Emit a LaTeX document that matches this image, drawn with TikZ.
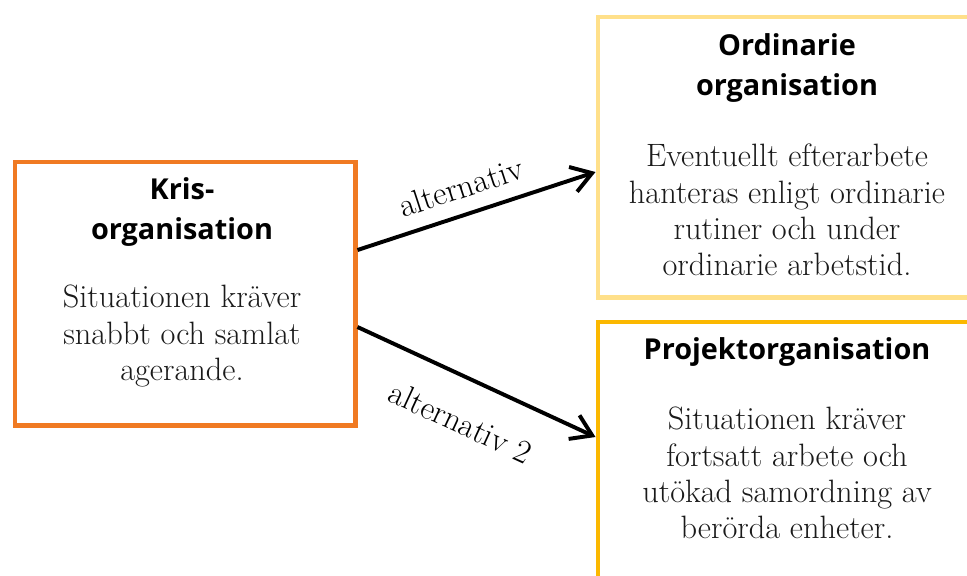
\documentclass[tikz,border=0pt]{standalone}
\usepackage{fontspec}
\newfontfamily\titlefont{Open Sans}
\usetikzlibrary{arrows.meta,positioning}
\definecolor{krisorange}{HTML}{F07A22}
\definecolor{ordyellow}{HTML}{FFE08A}
\definecolor{projyellow}{HTML}{FBB800}
\definecolor{bodytext}{HTML}{1A1A1A}

\begin{document}
\begin{tikzpicture}[
  x=0.025cm, y=-0.025cm,
  orgbox/.style={draw, line width=3.5pt, fill=white, anchor=north west, inner sep=0pt},
  ttl/.style={font=\titlefont\bfseries\fontsize{20.5}{28.3}\selectfont, align=center, text=black},
  body/.style={font=\fontsize{23}{25.8}\selectfont, align=center, text=bodytext},
  link/.style={-{Straight Barb[length=5mm,width=6.5mm]}, line width=2.8pt},
  lbl/.style={font=\fontsize{23.5}{26}\selectfont, sloped, inner sep=1pt}
]
\useasboundingbox (0,0) rectangle (967,575);
% boxes
\node[orgbox, draw=krisorange, minimum width=8.5cm, minimum height=6.575cm] (kris) at (12.5,159.5) {};
\node[orgbox, draw=ordyellow, minimum width=10.5cm, minimum height=7cm] (ordinarie) at (595.5,14.5) {};
\node[orgbox, draw=projyellow, minimum width=10.5cm, minimum height=7.5cm] (projekt) at (595.5,319.5) {};
% texts
\node[ttl] (kristitle) at (182,212) {Kris-\\organisation};
\node[body] (krisbody) at (182,336) {Situationen kräver\\snabbt och samlat\\agerande.};
\node[ttl] (ordtitle) at (787,68) {Ordinarie\\organisation};
\node[body] (ordbody) at (787,210) {Eventuellt efterarbete\\hanteras enligt ordinarie\\rutiner och under\\ordinarie arbetstid.};
\node[ttl] (projtitle) at (787,352) {Projektorganisation};
\node[body] (projbody) at (787,473) {Situationen kräver\\fortsatt arbete och\\utökad samordning av\\berörda enheter.};
% connectors
\coordinate (krisout1) at (kris.east |- 0,250);
\coordinate (krisout2) at (kris.east |- 0,327);
\coordinate (ordin) at (ordinarie.west |- 0,172);
\coordinate (projin) at (projekt.west |- 0,437);
\draw[link] (krisout1) -- node[lbl, above=9pt, pos=0.47] (alt1) {alternativ} (ordin);
\draw[link] (krisout2) -- node[lbl, below=20pt, pos=0.51] (alt2) {alternativ 2} (projin);
\end{tikzpicture}
\end{document}
